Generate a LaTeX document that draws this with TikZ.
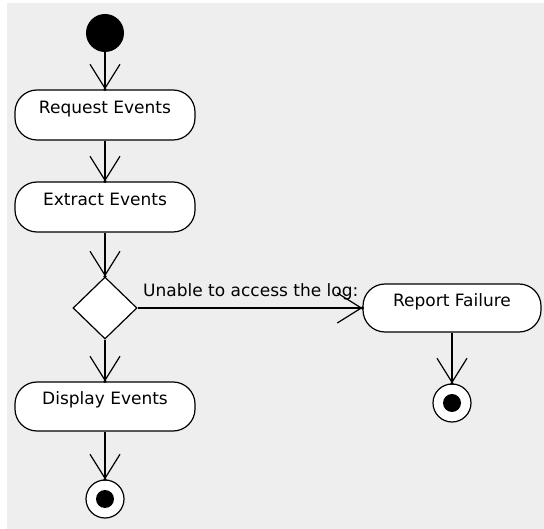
\documentclass[tikz,border=0pt]{standalone}
\usepackage{fontspec}
\setmainfont{DejaVu Sans}
\usetikzlibrary{shapes.geometric,arrows.meta}
\definecolor{bggray}{RGB}{238,238,238}
\begin{document}
\begin{tikzpicture}[x=1pt,y=-1pt,
  activity/.style={draw=black, fill=white, line width=1.2pt, rounded corners=22pt,
    minimum width=180pt, minimum height=50pt, inner sep=0pt,
    text height=12pt, text depth=15pt, font=\fontsize{17}{20}\selectfont},
  startnode/.style={circle, fill=black, minimum size=38pt, inner sep=0pt},
  finalnode/.style={circle, draw=black, fill=white, line width=1.2pt, minimum size=38pt, inner sep=0pt,
    path picture={\fill[black] (path picture bounding box.center) circle (9pt);}},
  decision/.style={diamond, draw=black, fill=white, line width=1.2pt, minimum width=64pt, minimum height=62pt, inner sep=0pt},
  flow/.style={line width=1.2pt, -{Straight Barb[length=24pt,width=30pt]}},
  tipdot/.style={fill=black},
  lbl/.style={font=\fontsize{17}{20}\selectfont, inner sep=0pt}
]
\fill[white] (0,0) rectangle (544,529);
\fill[bggray] (7,3) rectangle (544,529);
\useasboundingbox (0,0) rectangle (544,529);

\node[startnode] (init) at (105,33) {};
\node[activity] (req) at (105,115) {Request Events};
\node[activity] (ext) at (105,207) {Extract Events};
\node[decision] (dec) at (105,308) {};
\node[activity, minimum height=49pt] (disp) at (105,406.5) {Display Events};
\node[finalnode] (fin1) at (105,499) {};
\node[activity, minimum width=178pt, minimum height=48pt] (rep) at (452,308) {Report Failure};
\node[finalnode] (fin2) at (452,403) {};

\draw[flow] (init) -- (req);
\draw[flow] (req) -- (ext);
\draw[flow] (ext) -- (dec);
\draw[flow] (dec) -- (disp);
\draw[flow] (disp) -- (fin1);
\draw[flow] (dec.east) -- node[lbl, pos=0, anchor=base west, xshift=5pt, yshift=11pt] {Unable to access the log:} (rep.west);
\draw[flow] (rep) -- (fin2);

\foreach \n in {req.north, ext.north, dec.north, disp.north, fin1.north, rep.west, fin2.north}
  \fill[tipdot] (\n) circle (1.8pt);
\end{tikzpicture}
\end{document}
